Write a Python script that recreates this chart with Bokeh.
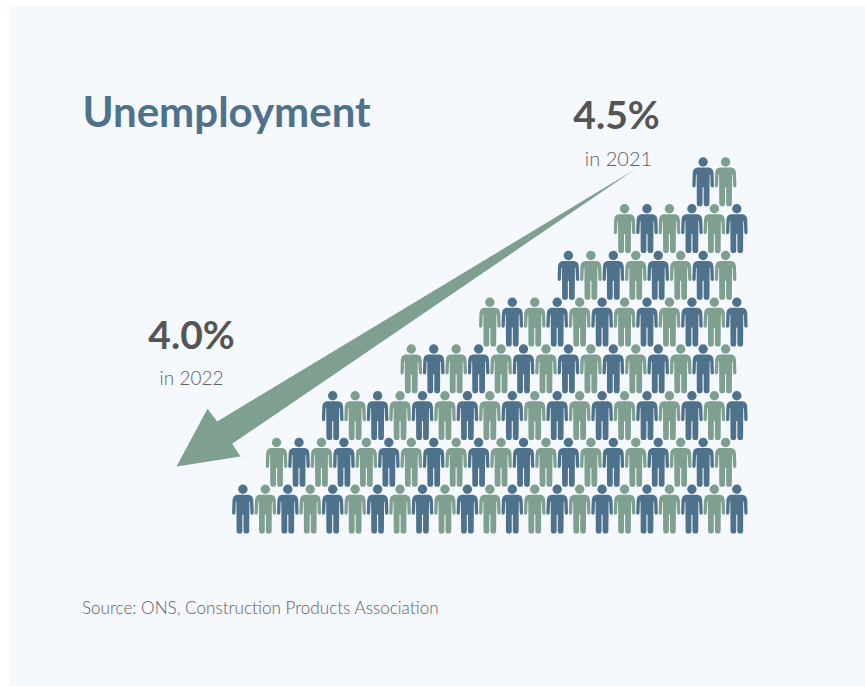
from bokeh.core.properties import value
from bokeh.embed import file_html
from bokeh.models import ColumnDataSource, Range1d
from bokeh.plotting import figure
from bokeh.resources import INLINE

# Headline figures
title_text = "Unemployment"
source_text = "Source: ONS, Construction Products Association"
rate_2021 = 4.5
rate_2022 = 4.0
year_2021 = "in 2021"
year_2022 = "in 2022"

# Pictogram: people per row (bottom row first), the half-column each row starts at,
# and which colour each row starts with (0 = blue, 1 = green)
row_counts = [23, 21, 19, 15, 12, 8, 6, 2]
row_starts = [0, 3, 8, 15, 22, 29, 34, 41]
row_first_colour = [0, 1, 0, 1, 1, 0, 1, 0]

BLUE = "#4f728c"
GREEN = "#7f9f91"
GREY = "#555555"
SOFT = "#606164"
PANEL = "#f5f8fd"

HALF_STEP = 11.225
ROW_STEP = 46.75
LEFT = 243.0 - 0.6
BOTTOM_HEAD_TOP = 484.0

# Right half of a standing figure, relative to the centre line and the top of the head
HALF_BODY = [
    (0, 10.2), (5.8, 10.2), (8.0, 10.9), (9.6, 12.6), (10.4, 15.5), (10.8, 28.6),
    (10.4, 29.8), (9.2, 30.3), (8.0, 29.8), (7.5, 28.6), (7.1, 17.6), (6.8, 16.8),
    (6.5, 17.6), (6.3, 46.6), (5.9, 48.2), (4.7, 49.0), (2.1, 49.0), (1.0, 48.2),
    (0.55, 46.6), (0.55, 30.5), (0, 29.8),
]
BODY = HALF_BODY + [(-x, y) for x, y in reversed(HALF_BODY[1:-1])]
HEAD_RADIUS = 4.7

# Text anchors sit this fraction of the font size above the intended baseline
BASELINE_LIFT = 0.375

p = figure(
    width=865, height=686, output_backend="svg", toolbar_location=None,
    x_range=Range1d(0, 865), y_range=Range1d(686, 0),
    min_border=0, min_border_left=0, min_border_right=0, min_border_top=0, min_border_bottom=0,
    background_fill_color="white", border_fill_color="white", outline_line_color=None,
)
p.axis.visible = False
p.grid.visible = False

# Tinted panel behind everything
p.quad(left=[9], right=[865], top=[5], bottom=[686], fill_color=PANEL, line_color=None)

# One body and one head per person
xs, ys, cx, cy, colours = [], [], [], [], []
for row, (count, start, first) in enumerate(zip(row_counts, row_starts, row_first_colour)):
    top = BOTTOM_HEAD_TOP - row * ROW_STEP
    for i in range(count):
        x0 = LEFT + (start + 2 * i) * HALF_STEP
        xs.append([x0 + dx for dx, _ in BODY])
        ys.append([top + dy for _, dy in BODY])
        cx.append(x0)
        cy.append(top + HEAD_RADIUS)
        colours.append(BLUE if (i + first) % 2 == 0 else GREEN)

people = ColumnDataSource(dict(xs=xs, ys=ys, cx=cx, cy=cy, colour=colours))
p.patches("xs", "ys", source=people, fill_color="colour", line_color=None)
p.circle("cx", "cy", radius=HEAD_RADIUS, source=people, fill_color="colour", line_color=None)

# Falling arrow from the 2021 rate down to the 2022 rate
p.patch(
    x=[633.5, 231.7, 240.0, 176.0, 207.0, 216.7],
    y=[169.5, 443.3, 456.0, 466.0, 408.3, 421.0],
    fill_color=GREEN, line_color=None,
)


def put(x, y, text, size, colour, font="Lato", style="normal", align="left"):
    p.text(
        x=[x], y=[y - BASELINE_LIFT * size], text=[text], text_font=value(font),
        text_font_size=f"{size}px", text_font_style=style, text_color=colour,
        text_align=align, text_baseline="alphabetic",
    )


put(82, 126, title_text, 42, BLUE, style="bold")
put(616, 128, f"{rate_2021:.1f}%", 39, GREY, style="bold", align="center")
put(618, 165, year_2021, 20, SOFT, font="Lato Light", align="center")
put(191, 348, f"{rate_2022:.1f}%", 39, GREY, style="bold", align="center")
put(191, 384, year_2022, 19, SOFT, font="Lato Light", align="center")
put(81.5, 613, source_text, 17.1, SOFT, font="Lato Light")

open("out.html", "w").write(file_html(p, INLINE))
